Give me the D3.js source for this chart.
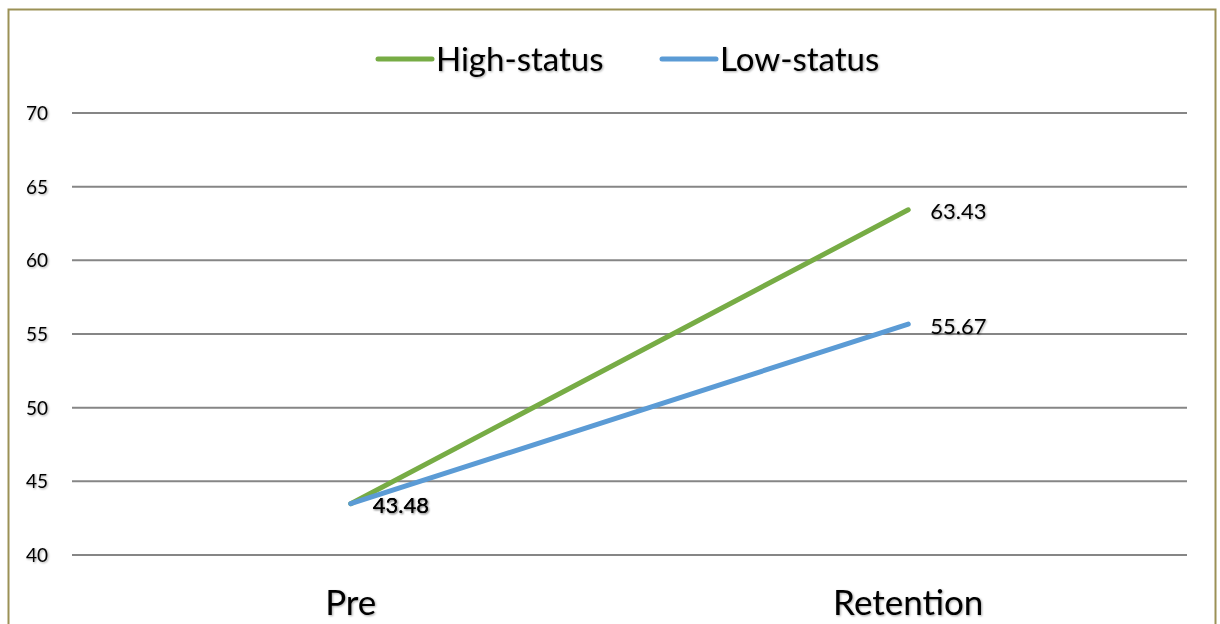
<!DOCTYPE html>
<html><head><meta charset="utf-8">
<script src="https://cdn.jsdelivr.net/npm/d3@7"></script>
<style>
body{margin:0;background:#fff;}
svg{display:block;}
text{font-family:Lato,"Open Sans",sans-serif;fill:#000;}
</style></head>
<body><svg id="c" width="1220" height="624"></svg>
<script>
const categories = ["Pre", "Retention"];
const seriesNames = ["High-status", "Low-status"];
const highStatus = [43.48, 63.43];
const lowStatus = [43.48, 55.67];
const yTicks = [40, 45, 50, 55, 60, 65, 70];
const colors = ["#77ac45", "#5b9bd5"];

(function(){
const svg = d3.select("#c");
const defs = svg.append("defs");
const f = defs.append("filter").attr("id","sh").attr("x","-10%").attr("y","-10%").attr("width","130%").attr("height","140%");
f.append("feDropShadow").attr("dx",1).attr("dy",1).attr("stdDeviation",0.8).attr("flood-color","#000").attr("flood-opacity",0.35);

svg.append("rect").attr("x",8.5).attr("y",9.5).attr("width",1207).attr("height",640)
  .attr("fill","#fff").attr("stroke","#9b9156").attr("stroke-width",2);

const pl = 72, pr = 1187, pt = 113, pb = 555;
const x = d3.scaleBand().domain(categories).range([pl, pr]);
const y = d3.scaleLinear().domain([40, 70]).range([pb, pt]);

const grid = svg.append("g").attr("class","grid");
grid.selectAll("line").data(yTicks).join("line")
  .attr("x1", pl).attr("x2", pr)
  .attr("y1", d => y(d)).attr("y2", d => y(d))
  .attr("stroke", "#868686").attr("stroke-width", 2);

const yAxis = d3.axisLeft(y).tickValues(yTicks).tickSize(0).tickPadding(0);
const ya = svg.append("g").attr("transform", `translate(26,0)`).call(yAxis);
ya.select(".domain").remove();
ya.selectAll("text").attr("text-anchor","start").attr("x",0).attr("dy","0.35em")
  .style("font-size","19px").style("font-family","Lato,'Open Sans',sans-serif").attr("fill","#000").attr("filter","url(#sh)");

const xAxis = d3.axisBottom(x).tickSize(0).tickPadding(0);
const xa = svg.append("g").attr("transform", `translate(0,${pb})`).call(xAxis);
xa.select(".domain").remove();
xa.selectAll("text").attr("y", 60).attr("dy","0")
  .style("font-size","35px").style("font-family","Lato,'Open Sans',sans-serif").attr("fill","#000").attr("filter","url(#sh)");

const cx = d => x(d) + x.bandwidth()/2;
const line = d3.line().x((d,i) => cx(categories[i])).y(d => y(d));

const series = [highStatus, lowStatus];
svg.append("g").selectAll("path").data(series).join("path")
  .attr("d", d => line(d)).attr("fill","none")
  .attr("stroke", (d,i) => colors[i]).attr("stroke-width",5).attr("stroke-linecap","round");

const labels = [];
series.forEach((s, si) => s.forEach((v, i) => labels.push({v, i, si})));
svg.append("g").selectAll("text").data(labels).join("text")
  .attr("x", d => cx(categories[d.i]) + 22)
  .attr("y", d => y(d.v) + 2)
  .attr("dy","0.35em")
  .style("font-size","22px")
  .attr("filter","url(#sh)")
  .text(d => d.v.toFixed(2));

const legendX = [378, 662];
const lg = svg.append("g");
seriesNames.forEach((n, i) => {
  lg.append("line").attr("x1", legendX[i]).attr("x2", legendX[i] + 54)
    .attr("y1", 59).attr("y2", 59).attr("stroke", colors[i]).attr("stroke-width",5).attr("stroke-linecap","round");
  lg.append("text").attr("x", legendX[i] + 58).attr("y", 59).attr("dy","0.35em")
    .style("font-size","33px").attr("filter","url(#sh)").text(n);
});
})();
</script></body></html>
